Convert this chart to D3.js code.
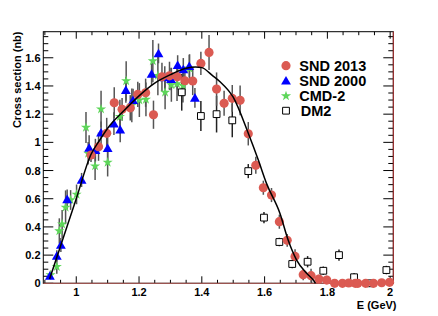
<!DOCTYPE html>
<html><head><meta charset="utf-8">
<script src="https://cdn.jsdelivr.net/npm/d3@7/dist/d3.min.js"></script>
<style>body{margin:0;background:#fff}svg{display:block}</style>
</head><body><svg id="c" width="438" height="316"></svg>
<script>
// ---- data ----
const snd2013E = [1.047,1.071,1.097,1.121,1.146,1.172,1.196,1.221,1.246,1.273,1.297,1.322,1.346,1.371,1.397,1.423,1.447,1.471,1.497,1.522,1.548,1.572,1.596,1.622,1.647,1.672,1.697,1.723,1.748,1.773,1.798,1.823,1.848,1.868,1.889,1.897,1.922,1.947,1.973,1.998];
const snd2013V = [0.91,0.969,1.064,1.281,1.234,1.245,1.340,1.352,1.196,1.465,1.472,1.465,1.437,1.435,1.560,1.638,1.378,1.277,1.312,1.298,1.061,0.837,0.678,0.626,0.437,0.305,0.191,0.061,0.054,0.03,0.023,0.0,0.0,0.002,0.0,0.0,0.0,0.0,0.004,0.007];
const snd2013Err = [0.05,0.1,0.11,0.11,0.08,0.09,0.09,0.1,0.1,0.1,0.1,0.09,0.1,0.1,0.083,0.124,0.118,0.089,0.095,0.106,0.083,0.06,0.05,0.05,0.05,0.045,0.05,0.04,0.05,0.03,0.03,0.03,0.03,0.02,0.02,0.02,0.02,0.02,0.02,0.03];

const snd2000E = [0.916,0.938,0.951,0.971,1.017,1.041,1.061,1.079,1.100,1.120,1.140,1.158,1.181,1.240,1.262,1.282,1.302,1.323,1.341,1.360,1.378];
const snd2000V = [0.052,0.194,0.272,0.596,0.733,0.960,0.945,1.068,0.958,1.133,1.090,1.371,1.300,1.485,1.631,1.460,1.449,1.548,1.518,1.541,1.316];
const snd2000Err = [0.02,0.04,0.05,0.07,0.05,0.09,0.08,0.08,0.09,0.08,0.09,0.09,0.08,0.08,0.07,0.08,0.08,0.07,0.08,0.08,0.07];

const cmd2E = [0.918,0.938,0.946,0.955,0.966,0.982,1.001,1.031,1.038,1.060,1.079,1.100,1.139,1.159,1.177,1.201,1.222,1.244,1.260,1.283,1.303,1.321,1.340,1.361];
const cmd2V = [0.059,0.118,0.371,0.420,0.539,0.591,0.631,1.106,0.922,0.832,1.236,0.858,1.182,1.436,1.262,1.300,1.305,1.577,1.474,1.355,1.408,1.414,1.403,1.525];
const cmd2Err = [0.03,0.05,0.09,0.1,0.12,0.07,0.07,0.11,0.08,0.1,0.13,0.1,0.12,0.14,0.12,0.12,0.12,0.15,0.14,0.12,0.12,0.12,0.12,0.1];

const dm2E = [1.336,1.397,1.447,1.497,1.548,1.598,1.647,1.688,1.737,1.787,1.837,1.885,1.937,1.988];
const dm2V = [1.355,1.187,1.200,1.156,0.796,0.466,0.293,0.137,0.153,0.089,0.200,0.043,0.0,0.094];
const dm2Err = [0.13,0.106,0.13,0.12,0.05,0.04,0.03,0.03,0.04,0.03,0.04,0.03,0.02,0.03];

const fitE = [0.915,0.95,1.0,1.046,1.076,1.1,1.15,1.2,1.25,1.3,1.35,1.38,1.4,1.436,1.458,1.5,1.548,1.58,1.606,1.649,1.675,1.702,1.734,1.755,1.762];
const fitV = [0.03,0.265,0.6,0.91,1.02,1.1,1.22,1.33,1.42,1.48,1.525,1.535,1.53,1.47,1.43,1.32,1.064,0.874,0.709,0.496,0.307,0.165,0.071,0.023,0.0];

const xTicks = [1,1.2,1.4,1.6,1.8,2];
const yTicks = [0,0.2,0.4,0.6,0.8,1,1.2,1.4,1.6];
const legendLabels = ["SND 2013","SND 2000","CMD-2","DM2"];

// ---- layout ----
const L=43.3, R=393.3, T=31.7, B=283.3;
const x = d3.scaleLinear().domain([0.895,2.01]).range([L,R]);
const y = d3.scaleLinear().domain([0,1.785]).range([B,T]);
const svg = d3.select("#c");
const FONT = "'Liberation Sans', Arial, Helvetica, sans-serif";

// minor ticks
const xMinor = d3.range(0.9,2.0101,0.05).map(v=>+v.toFixed(2));
const yMinor = d3.range(0,1.78,0.05).map(v=>+v.toFixed(2));
const isMaj = (v,arr)=>arr.some(a=>Math.abs(a-v)<1e-6);

const ax = svg.append("g").attr("stroke","#000").attr("stroke-width",1);
xMinor.forEach(v=>{
  const len = isMaj(v,xTicks)?7:3.5;
  const px = x(v);
  ax.append("line").attr("x1",px).attr("x2",px).attr("y1",B).attr("y2",B-len);
  ax.append("line").attr("x1",px).attr("x2",px).attr("y1",T).attr("y2",T+len);
});
yMinor.forEach(v=>{
  const len = isMaj(v,yTicks)?10:5;
  const py = y(v);
  ax.append("line").attr("x1",L).attr("x2",L+len).attr("y1",py).attr("y2",py);
  ax.append("line").attr("x1",R).attr("x2",R-len).attr("y1",py).attr("y2",py);
});
svg.append("rect").attr("x",L).attr("y",T).attr("width",R-L).attr("height",B-T)
  .attr("fill","none").attr("stroke","#000").attr("stroke-width",1);
svg.append("line").attr("x1",L).attr("x2",R).attr("y1",B).attr("y2",B).attr("stroke","#9a5450").attr("stroke-width",1.2);
svg.append("line").attr("x1",R).attr("x2",R).attr("y1",T).attr("y2",B).attr("stroke","#b03030").attr("stroke-width",1);

// tick labels
svg.append("g").selectAll("text").data(xTicks).join("text")
  .attr("x",d=>x(d)).attr("y",296).attr("text-anchor","middle")
  .attr("font-family",FONT).attr("font-weight","bold").attr("font-size",11)
  .text(d=>d3.format("~g")(d));
svg.append("g").selectAll("text").data(yTicks).join("text")
  .attr("x",40.5).attr("y",d=>y(d)+4).attr("text-anchor","end")
  .attr("font-family",FONT).attr("font-weight","bold").attr("font-size",11)
  .text(d=>d3.format("~g")(d));

// axis titles
svg.append("text").attr("transform","translate(20.5,31.5) rotate(-90)").attr("text-anchor","end")
  .attr("font-family",FONT).attr("font-weight","bold").attr("font-size",11).text("Cross section (nb)");
svg.append("text").attr("x",396.5).attr("y",308.5).attr("text-anchor","end")
  .attr("font-family",FONT).attr("font-weight","bold").attr("font-size",11).text("E (GeV)");

// series
const series = [
  {E:cmd2E,V:cmd2V,Er:cmd2Err,type:d3.symbolStar,size:32,fill:"#5ed65a",stroke:"none",ec:"#555"},
  {E:snd2000E,V:snd2000V,Er:snd2000Err,type:d3.symbolTriangle,size:42,fill:"#0000ff",stroke:"none",ec:"#555"},
  {E:dm2E,V:dm2V,Er:dm2Err,type:d3.symbolSquare,size:46,fill:"#fff",stroke:"#000",ec:"#222"},
  {E:snd2013E,V:snd2013V,Er:snd2013Err,type:d3.symbolCircle,size:66,fill:"#db5a52",stroke:"none",ec:"#555"}
];
const eg = svg.append("g");
series.forEach(s=>{
  s.E.forEach((e,i)=>{
    const y1 = Math.max(T,y(s.V[i]+s.Er[i])), y2 = Math.min(B,y(s.V[i]-s.Er[i]));
    eg.append("line").attr("x1",x(e)).attr("x2",x(e)).attr("y1",y1).attr("y2",y2)
      .attr("stroke",s.ec).attr("stroke-width",1.5);
  });
});
const mg = svg.append("g");
series.forEach(s=>{
  const sym = d3.symbol().type(s.type).size(s.size);
  s.E.forEach((e,i)=>{
    const yy = y(s.V[i]) + (s.type===d3.symbolTriangle?1:0);
    mg.append("path").attr("d",sym()).attr("transform",`translate(${x(e)},${yy})`)
      .attr("fill",s.fill).attr("stroke",s.stroke).attr("stroke-width",1);
  });
});

// fit curve
svg.append("path").datum(fitE.map((e,i)=>[e,fitV[i]]))
  .attr("d",d3.line().x(d=>x(d[0])).y(d=>y(d[1])).curve(d3.curveMonotoneX))
  .attr("fill","none").attr("stroke","#000").attr("stroke-width",1.5);

// legend
const legY = [65.7,80.7,96,110.7];
const legSeries = [series[3],series[1],series[0],series[2]];
legendLabels.forEach((lab,i)=>{
  const s = legSeries[i];
  svg.append("path").attr("d",d3.symbol().type(s.type).size(s.size)())
    .attr("transform",`translate(286,${legY[i]+(s.type===d3.symbolTriangle?1:0)})`)
    .attr("fill",s.fill).attr("stroke",s.stroke);
  svg.append("text").attr("x",i===3?300.7:299.3).attr("y",legY[i]+5.3)
    .attr("font-family",FONT).attr("font-weight","bold").attr("font-size",14.5).text(lab);
});
</script></body></html>
